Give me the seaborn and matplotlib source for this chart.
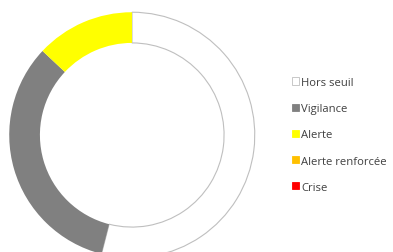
import matplotlib
matplotlib.use("Agg")
import matplotlib.pyplot as plt
from matplotlib.patches import Patch
import seaborn as sns

categories = ["Hors seuil", "Vigilance", "Alerte", "Alerte renforcée", "Crise"]
values = [54, 33, 13, 0, 0]
colors = ["#FFFFFF", "#808080", "#FFFF00", "#FFC000", "#FF0000"]
edges = ["#BFBFBF", "none", "none", "none", "none"]

sns.set_theme(style="white")
plt.rcParams["font.family"] = ["Open Sans", "DejaVu Sans"]

fig = plt.figure(figsize=(3.93, 2.53), dpi=100)
ax = fig.add_axes([8 / 393, -7 / 253, 248 / 393, 248 / 253])
wedges, _ = ax.pie(values, colors=colors, startangle=90, counterclock=False,
                   radius=1.0, wedgeprops=dict(width=0.25, linewidth=0.8))
for w, ec in zip(wedges, edges):
    w.set_edgecolor(ec)
ax.set_xlim(-1.01, 1.01)
ax.set_ylim(-1.01, 1.01)
ax.axis("off")

handles = [Patch(facecolor=c, edgecolor=(e if e != "none" else c), linewidth=0.6)
           for c, e in zip(colors, edges)]
fig.legend(handles, categories, loc="upper left",
           bbox_to_anchor=(283 / 393, 1 - 69 / 253), frameon=False,
           fontsize=8.1, handlelength=0.6, handleheight=0.6,
           handletextpad=0.2, labelspacing=1.35, borderpad=0.3,
           labelcolor="#404040")

fig.savefig("out.png", dpi=100, facecolor="white")
